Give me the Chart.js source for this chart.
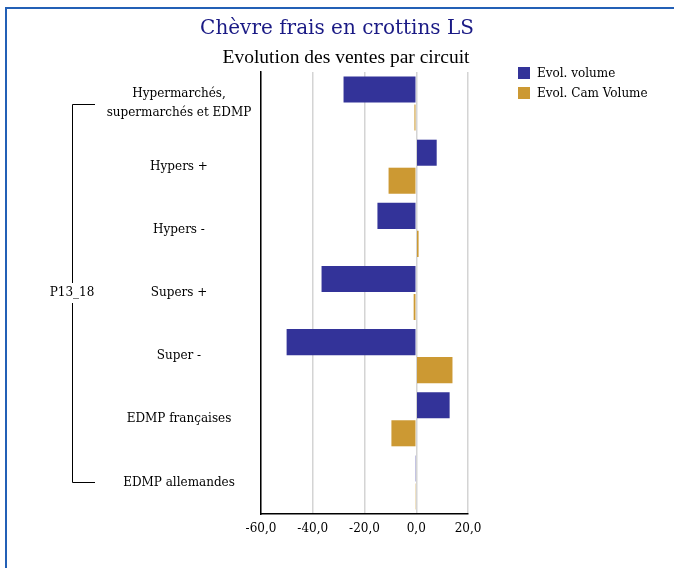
<!DOCTYPE html>
<html>
<head>
<meta charset="utf-8">
<script src="https://cdn.jsdelivr.net/npm/chart.js@4/dist/chart.umd.min.js"></script>
<style>
  html, body { margin: 0; padding: 0; background: #fff; overflow: hidden; }
  #wrap { position: relative; width: 674px; height: 568px; }
  #frame { position: absolute; left: 5px; top: 7px; width: 700px; height: 600px;
           border-top: 2px solid #2360b6; border-left: 2px solid #2360b6; box-sizing: border-box; }
  canvas { position: absolute; left: 0; top: 0; }
</style>
</head>
<body>
<div id="wrap">
  <div id="frame"></div>
  <canvas id="c" width="674" height="568"></canvas>
</div>
<script>
// ---- data ----
const titleText = "Chèvre frais en crottins LS";
const subtitleText = "Evolution des ventes par circuit";
const groupLabel = "P13_18";
const categories = [
  ["Hypermarchés,", "supermarchés et EDMP"],
  "Hypers +",
  "Hypers -",
  "Supers +",
  "Super -",
  "EDMP françaises",
  "EDMP allemandes"
];
const seriesNames = ["Evol. volume", "Evol. Cam Volume"];
const evolVolume = [-28.1, 7.9, -15.0, -36.6, -50.1, 12.9, -0.4];
const evolCamVolume = [-0.7, -10.7, 0.9, -1.0, 14.0, -9.6, -0.4];
const xTicks = [-60, -40, -20, 0, 20];

const FONT = "DejaVu Serif";
const labelSize = 12;

// compute padding so that the y labels are centred at x≈179
const mctx = document.createElement('canvas').getContext('2d');
mctx.font = labelSize + "px '" + FONT + "'";
const widest = mctx.measureText("supermarchés et EDMP").width;
const yLabelPad = 261 - 179 - widest / 2;

const decor = {
  id: 'decor',
  afterDraw(chart) {
    const ctx = chart.ctx;
    const y = chart.scales.y;
    ctx.save();
    // titles
    ctx.textAlign = 'center';
    ctx.textBaseline = 'alphabetic';
    ctx.fillStyle = '#1a1a85';
    ctx.font = "20px '" + FONT + "'";
    ctx.fillText(titleText, 337, 34);
    ctx.fillStyle = '#000';
    ctx.font = "19.5px 'Liberation Serif'";
    ctx.fillText(subtitleText, 346, 63);

    // legend
    ctx.textAlign = 'left';
    ctx.font = "12px '" + FONT + "'";
    chart.data.datasets.forEach((ds, i) => {
      const top = 67 + i * 20;
      ctx.fillStyle = ds.backgroundColor;
      ctx.fillRect(518, top, 12, 12);
      ctx.fillStyle = '#000';
      ctx.fillText(ds.label, 537, top + 10);
    });

    // group bracket
    const y0 = y.getPixelForValue(0);
    const y1 = y.getPixelForValue(categories.length - 1);
    const mid = (y0 + y1) / 2;
    ctx.strokeStyle = '#000';
    ctx.lineWidth = 1;
    ctx.beginPath();
    ctx.moveTo(95, Math.round(y0) + 0.5);
    ctx.lineTo(72.5, Math.round(y0) + 0.5);
    ctx.lineTo(72.5, mid - 10);
    ctx.moveTo(72.5, mid + 10);
    ctx.lineTo(72.5, Math.round(y1) + 0.5);
    ctx.lineTo(95, Math.round(y1) + 0.5);
    ctx.stroke();
    ctx.fillStyle = '#000';
    ctx.textAlign = 'center';
    ctx.textBaseline = 'middle';
    ctx.font = "12px '" + FONT + "'";
    ctx.fillText(groupLabel, 72, mid);
    ctx.restore();
  }
};

new Chart(document.getElementById('c'), {
  type: 'bar',
  data: {
    labels: categories,
    datasets: [
      { label: seriesNames[0], data: evolVolume, backgroundColor: '#333399' },
      { label: seriesNames[1], data: evolCamVolume, backgroundColor: '#cc9933' }
    ]
  },
  options: {
    indexAxis: 'y',
    responsive: false,
    animation: false,
    events: [],
    categoryPercentage: 0.887,
    barPercentage: 0.93,
    layout: { padding: { left: 0, top: 72, right: 206, bottom: 0 } },
    plugins: {
      legend: { display: false },
      title: { display: false },
      tooltip: { enabled: false }
    },
    scales: {
      x: {
        min: xTicks[0],
        max: xTicks[xTicks.length - 1],
        afterBuildTicks(scale) { scale.ticks = xTicks.map(v => ({ value: v })); },
        afterFit(scale) { scale.height = 54; },
        grid: { color: '#d4d4d4', lineWidth: 1.5, drawTicks: false },
        border: { display: true, color: '#000', width: 1.5 },
        ticks: {
          color: '#000',
          padding: 8,
          font: { family: FONT, size: 12 },
          callback: v => v.toFixed(1).replace('.', ',')
        }
      },
      y: {
        afterFit(scale) { scale.width = 261; },
        grid: { display: false, drawTicks: false },
        border: { display: true, color: '#000', width: 1.5 },
        ticks: {
          color: '#000',
          crossAlign: 'center',
          padding: yLabelPad,
          font: { family: FONT, size: labelSize, lineHeight: 1.6 }
        }
      }
    }
  },
  plugins: [decor]
});
</script>
</body>
</html>
